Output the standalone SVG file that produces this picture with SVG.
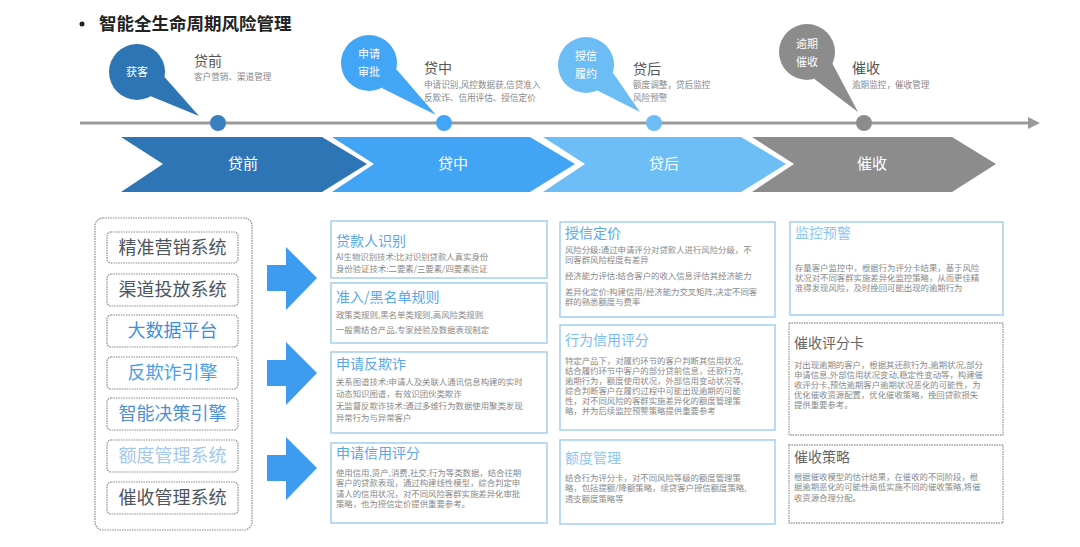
<svg xmlns="http://www.w3.org/2000/svg" width="1080" height="547" viewBox="0 0 1080 547">
<style>
text{font-family:"Noto Sans CJK SC","Noto Sans",sans-serif}
.title{font-size:17.5px;font-weight:bold;fill:#222}
.bt{font-size:11px;fill:#fff}
.lab{font-size:14px;fill:#555}
.sub{font-size:8.6px;fill:#888}
.chv{font-size:15px;fill:#fff;text-anchor:middle}
.sys{font-size:18px;text-anchor:middle}
.sysbox{fill:#fff;stroke:#8a8a8a;stroke-width:1.2;stroke-dasharray:1.5 1}
.bbox{fill:#fff;stroke:#a9d1f3;stroke-width:1.6}
.gbox{fill:#fff;stroke:#9a9a9a;stroke-width:1.3;stroke-dasharray:1.5 1}
.ht{font-size:14px}
.bd{font-size:8.4px;fill:#888}
.arr{fill:#3d9bf0}
</style>
<rect width="1080" height="547" fill="#fff"/>
<g id="title">
<circle cx="82" cy="24" r="2.5" fill="#222"/>
<text class="title" x="99" y="30">智能全生命周期风险管理</text>
</g>
<g id="connectors">
<line x1="80" y1="123" x2="1030" y2="123" stroke="#9a9a9a" stroke-width="3"/>
<polygon points="1028,117 1040,123 1028,129" fill="#9a9a9a"/>
</g>
<g id="bubble-huoke">
<polygon points="164.5,77 199,116 150.8,96.3" fill="#2e75b6"/>
<circle cx="137" cy="72" r="28" fill="#2e75b6"/>
<text class="bt" x="137" y="76" text-anchor="middle">获客</text>
<circle cx="218" cy="123" r="8" fill="#3a7fc0"/>
<text class="lab" x="194" y="66">贷前</text>
<text class="sub" x="194" y="80">客户营销、渠道管理</text>
</g>
<g id="bubble-shenqing">
<polygon points="396.3,69.2 436,115 381.8,87.9" fill="#42a5f5"/>
<circle cx="369" cy="63" r="28" fill="#42a5f5"/>
<text class="bt" x="369" y="58" text-anchor="middle">申请</text>
<text class="bt" x="369" y="76" text-anchor="middle">审批</text>
<circle cx="444" cy="123" r="8" fill="#42a5f5"/>
<text class="lab" x="424" y="73">贷中</text>
<text class="sub" x="424" y="88">申请识别,风控数据获,信贷准入</text>
<text class="sub" x="424" y="101">反欺诈、信用评估、授信定价</text>
</g>
<g id="bubble-shouxin">
<polygon points="612.9,72.7 640,112 597.4,90.6" fill="#6cbcf6"/>
<circle cx="586" cy="65" r="28" fill="#6cbcf6"/>
<text class="bt" x="586" y="60" text-anchor="middle">授信</text>
<text class="bt" x="586" y="78" text-anchor="middle">履约</text>
<circle cx="654" cy="123" r="8" fill="#6cbcf6"/>
<text class="lab" x="633" y="74">贷后</text>
<text class="sub" x="633" y="88">额度调整，贷后监控</text>
<text class="sub" x="633" y="101">风险预警</text>
</g>
<g id="bubble-yuqi">
<polygon points="832.5,63.7 858,112 814.4,79" fill="#8c8c8c"/>
<circle cx="807" cy="52" r="28" fill="#8c8c8c"/>
<text class="bt" x="807" y="48" text-anchor="middle">逾期</text>
<text class="bt" x="807" y="66" text-anchor="middle">催收</text>
<circle cx="864" cy="123" r="8" fill="#8c8c8c"/>
<text class="lab" x="852" y="73">催收</text>
<text class="sub" x="852" y="88">逾期监控，催收管理</text>
</g>
<g id="chevron-daiqian">
<polygon points="121,137 322,137 367,164 322,192 121,192 163,164" fill="#2e75b6"/>
<text class="chv" x="243" y="169">贷前</text>
</g>
<g id="chevron-daizhong">
<polygon points="332,137 530,137 575,164 530,192 332,192 374,164" fill="#42a4f5"/>
<text class="chv" x="453" y="169">贷中</text>
</g>
<g id="chevron-daihou">
<polygon points="543,137 741,137 786,164 741,192 543,192 585,164" fill="#6dbdf7"/>
<text class="chv" x="664" y="169">贷后</text>
</g>
<g id="chevron-cuishou">
<polygon points="752,137 952,137 996,164 952,192 752,192 794,164" fill="#8c8c8c"/>
<text class="chv" x="872" y="169">催收</text>
</g>
<g id="systems">
<rect x="95" y="218" width="157" height="312" rx="8" fill="#fff" stroke="#8a8a8a" stroke-width="1.2" stroke-dasharray="1.5 1"/>
<rect class="sysbox" x="107" y="232" width="131" height="31" rx="4"/>
<text class="sys" x="172.5" y="254" fill="#4d5560">精准营销系统</text>
<rect class="sysbox" x="107" y="274" width="131" height="32" rx="4"/>
<text class="sys" x="172.5" y="296" fill="#4d5560">渠道投放系统</text>
<rect class="sysbox" x="107" y="315" width="131" height="32" rx="4"/>
<text class="sys" x="172.5" y="337" fill="#3d8fe0">大数据平台</text>
<rect class="sysbox" x="107" y="357" width="131" height="32" rx="4"/>
<text class="sys" x="172.5" y="379" fill="#4a9de8">反欺诈引擎</text>
<rect class="sysbox" x="107" y="398" width="131" height="32" rx="4"/>
<text class="sys" x="172.5" y="420" fill="#4b8fd6">智能决策引擎</text>
<rect class="sysbox" x="107" y="440" width="131" height="32" rx="4"/>
<text class="sys" x="172.5" y="462" fill="#a4c8ec">额度管理系统</text>
<rect class="sysbox" x="107" y="482" width="131" height="32" rx="4"/>
<text class="sys" x="172.5" y="504" fill="#4d5560">催收管理系统</text>
</g>
<g id="arrows">
<polygon class="arr" points="267,265 286,265 286,247 317,278 286,310 286,291 267,291"/>
<polygon class="arr" points="267,360 286,360 286,342 317,373 286,405 286,386 267,386"/>
<polygon class="arr" points="267,455 286,455 286,437 317,468 286,500 286,481 267,481"/>
</g>
<g id="box-daikuanren">
<rect class="bbox" x="331" y="221" width="216" height="57"/>
<text class="ht" x="336" y="246" fill="#5aa7ea">贷款人识别</text>
<text class="bd" x="336" y="260">AI生物识别技术:比对识别贷款人真实身份</text>
<text class="bd" x="336" y="272">身份验证技术:二要素/三要素/四要素验证</text>
</g>
<g id="box-zhunru">
<rect class="bbox" x="331" y="283" width="216" height="60"/>
<text class="ht" x="336" y="302" fill="#5aa7ea">准入/黑名单规则</text>
<text class="bd" x="336" y="318">政策类规则,黑名单类规则,高风险类规则</text>
<text class="bd" x="336" y="333">一般需结合产品,专家经验及数据表现制定</text>
</g>
<g id="box-fanqizha">
<rect class="bbox" x="331" y="352" width="216" height="81"/>
<text class="ht" x="336" y="369" fill="#5aa7ea">申请反欺诈</text>
<text class="bd" x="336" y="385" fill="#8ba6c4">关系图谱技术:申请人及关联人通讯信息构建的实时</text>
<text class="bd" x="336" y="397" fill="#8ba6c4">动态知识图谱，有效识团伙类欺诈</text>
<text class="bd" x="336" y="409" fill="#8ba6c4">无监督反欺诈技术:通过多维行为数据使用聚类发现</text>
<text class="bd" x="336" y="421" fill="#8ba6c4">异常行为与异常客户</text>
</g>
<g id="box-xinyongpingfen">
<rect class="bbox" x="331" y="443" width="216" height="80"/>
<text class="ht" x="336" y="458" fill="#5aa7ea">申请信用评分</text>
<text class="bd" x="336" y="476">使用信用,资产,消费,社交,行为等类数据，结合往期</text>
<text class="bd" x="336" y="486">客户的贷款表现，通过构建线性模型，综合判定申</text>
<text class="bd" x="336" y="497">请人的信用状况，对不同风险客群实施差异化审批</text>
<text class="bd" x="336" y="507">策略，也为授信定价提供重要参考。</text>
</g>
<g id="box-shouxindingjia">
<rect class="bbox" x="560" y="222" width="215" height="95"/>
<text class="ht" x="565" y="238" fill="#5aa7ea">授信定价</text>
<text class="bd" x="565" y="253">风险分级:通过申请评分对贷款人进行风险分级，不</text>
<text class="bd" x="565" y="263">同客群风险程度有差异</text>
<text class="bd" x="565" y="279">经济能力评估:结合客户的收入信息评估其经济能力</text>
<text class="bd" x="565" y="295">差异化定价:构建信用/经济能力交叉矩阵,决定不同客</text>
<text class="bd" x="565" y="305">群的熟悉额度与费率</text>
</g>
<g id="box-xingwei">
<rect class="bbox" x="560" y="325" width="215" height="105"/>
<text class="ht" x="565" y="345" fill="#7bbcf0">行为信用评分</text>
<text class="bd" x="565" y="364">特定产品下，对履约环节的客户判断其信用状况,</text>
<text class="bd" x="565" y="374">结合履约环节中客户的部分贷前信息，还款行为,</text>
<text class="bd" x="565" y="384">逾期行为，额度使用状况，外部信用变动状况等,</text>
<text class="bd" x="565" y="394">综合判断客户在履约过程中可能出现逾期的可能</text>
<text class="bd" x="565" y="404">性，对不同风险的客群实施差异化的额度管理策</text>
<text class="bd" x="565" y="414">略，并为后续监控预警策略提供重要参考</text>
</g>
<g id="box-edu">
<rect class="bbox" x="560" y="440" width="215" height="84"/>
<text class="ht" x="565" y="463" fill="#8ec6f2">额度管理</text>
<text class="bd" x="565" y="481">结合行为评分卡，对不同风险等级的额度管理策</text>
<text class="bd" x="565" y="491">略，包括提额/降额策略，续贷客户授信额度策略,</text>
<text class="bd" x="565" y="502">透支额度策略等</text>
</g>
<g id="box-jiankong">
<rect class="bbox" x="790" y="222" width="213" height="93"/>
<text class="ht" x="795" y="238" fill="#8ec6f2">监控预警</text>
<text class="bd" x="795" y="271">存量客户监控中，根据行为评分卡结果，基于风险</text>
<text class="bd" x="795" y="281">状况对不同客群实施差异化监控策略，从而更佳精</text>
<text class="bd" x="795" y="291">准得发现风险，及时挽回可能出现的逾期行为</text>
</g>
<g id="box-cuishoupingfen">
<rect class="gbox" x="789" y="323" width="214" height="112"/>
<text class="ht" x="794" y="348" fill="#666">催收评分卡</text>
<text class="bd" x="794" y="368">对出现逾期的客户，根据其还款行为,逾期状况,部分</text>
<text class="bd" x="794" y="378">申请信息,外部信用状况变动,稳定性变动等，构建催</text>
<text class="bd" x="794" y="388">收评分卡,预估逾期客户逾期状况恶化的可能性，为</text>
<text class="bd" x="794" y="398">优化催收资源配置，优化催收策略，挽回贷款损失</text>
<text class="bd" x="794" y="408">提供重要参考。</text>
</g>
<g id="box-cuishoucelue">
<rect class="gbox" x="789" y="445" width="214" height="78"/>
<text class="ht" x="794" y="462" fill="#666">催收策略</text>
<text class="bd" x="794" y="480">根据催收模型的估计结果，在催收的不同阶段，根</text>
<text class="bd" x="794" y="490">据逾期恶化的可能性高低实施不同的催收策略,将催</text>
<text class="bd" x="794" y="501">收资源合理分配。</text>
</g>
</svg>
